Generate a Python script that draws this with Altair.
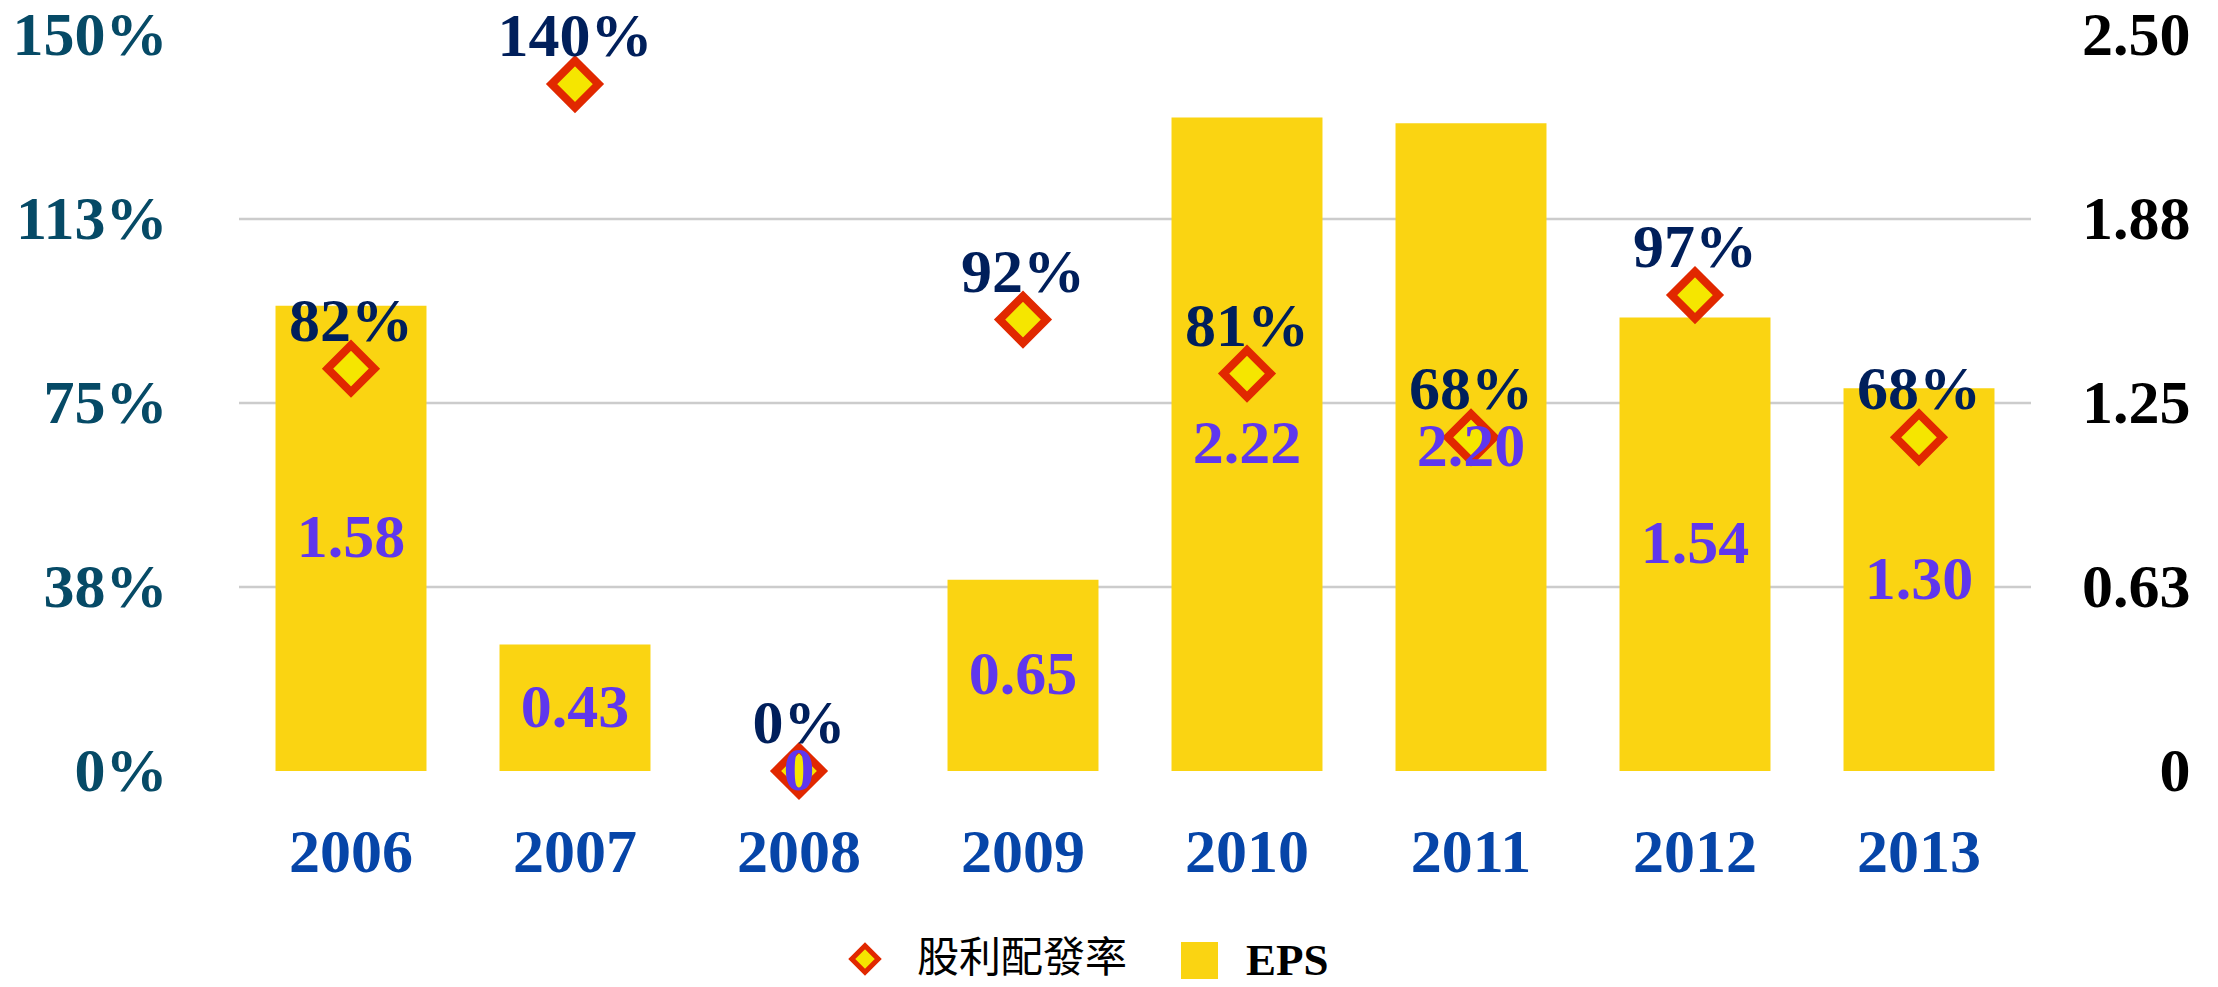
import altair as alt
import pandas as pd

# ---- data ----
years = ["2006", "2007", "2008", "2009", "2010", "2011", "2012", "2013"]
eps = [1.58, 0.43, 0, 0.65, 2.22, 2.20, 1.54, 1.30]
payout = [82, 140, 0, 92, 81, 68, 97, 68]
eps_labels = ["1.58", "0.43", "0", "0.65", "2.22", "2.20", "1.54", "1.30"]
payout_labels = ["82%", "140%", "0%", "92%", "81%", "68%", "97%", "68%"]

pct_ticks = [0, 37.5, 75, 112.5, 150]
pct_tick_labels = ["0%", "38%", "75%", "113%", "150%"]
eps_ticks = [0, 0.625, 1.25, 1.875, 2.5]
eps_tick_labels = ["0", "0.63", "1.25", "1.88", "2.50"]
grid_values = [0.625, 1.25, 1.875]

series_payout = "股利配發率"
series_eps = "EPS"

# ---- tables ----
df = pd.DataFrame({
    "year": years,
    "eps": eps,
    "payout": payout,
    "eps_label": eps_labels,
    "payout_label": payout_labels,
    "s_payout": [series_payout] * len(years),
    "s_eps": [series_eps] * len(years),
})
grid_df = pd.DataFrame({"g": grid_values})


def label_expr(ticks, labels):
    expr = "''"
    for t, l in reversed(list(zip(ticks, labels))):
        expr = f"datum.value == {t} ? '{l}' : ({expr})"
    return expr


SERIF = "Liberation Serif"
W, H = 1792, 736
FS_AXIS = 62
FS_VAL = 62

x_enc = alt.X(
    "year:N",
    sort=years,
    scale=alt.Scale(domain=years, paddingInner=0.326, paddingOuter=0.163),
    axis=alt.Axis(title=None, labelAngle=0, labelFont=SERIF, labelFontWeight="bold",
                  labelFontSize=FS_AXIS, labelColor="#0645a8", domain=False, ticks=False,
                  tickSize=0, labelPadding=51, grid=False),
)

eps_scale = alt.Scale(domain=[0, 2.5], nice=False, zero=True)
eps_axis = alt.Axis(title=None, orient="right", values=eps_ticks,
                    labelExpr=label_expr(eps_ticks, eps_tick_labels),
                    grid=False, domain=False, ticks=False, tickSize=0,
                    labelFont=SERIF, labelFontWeight="bold", labelFontSize=FS_AXIS,
                    labelColor="#000000", labelAlign="right", labelPadding=159)

pct_scale = alt.Scale(domain=[0, 150], nice=False, zero=True)
pct_axis = alt.Axis(title=None, orient="left", values=pct_ticks,
                    labelExpr=label_expr(pct_ticks, pct_tick_labels),
                    grid=False, domain=False, ticks=False, tickSize=0,
                    labelFont=SERIF, labelFontWeight="bold", labelFontSize=FS_AXIS,
                    labelColor="#064a66", labelAlign="right", labelPadding=72)

# ---- EPS group (right axis): gridlines + bars ----
grid = alt.Chart(grid_df).mark_rule(color="#cccccc", strokeWidth=2.5).encode(
    y=alt.Y("g:Q", scale=eps_scale, axis=eps_axis)
)

bars = alt.Chart(df).mark_bar(opacity=1).encode(
    x=x_enc,
    y=alt.Y("eps:Q", scale=eps_scale, axis=eps_axis),
    color=alt.Color(
        "s_eps:N",
        scale=alt.Scale(domain=[series_eps], range=["#fad412"]),
        legend=alt.Legend(title=None, orient="none", legendX=938, legendY=903,
                          symbolType="square", symbolSize=1370, symbolStrokeWidth=0,
                          labelFont=SERIF, labelFontWeight="bold", labelFontSize=45,
                          labelColor="#000000", labelOffset=24, labelLimit=400,
                          padding=0),
    ),
)

eps_group = alt.layer(grid, bars)

# ---- payout group (left axis) ----
diamonds = alt.Chart(df).mark_point(shape="diamond", filled=True, size=2200,
                                    stroke="#e12800", strokeWidth=8, opacity=1).encode(
    x=x_enc,
    y=alt.Y("payout:Q", scale=pct_scale, axis=pct_axis),
    fill=alt.Fill(
        "s_payout:N",
        scale=alt.Scale(domain=[series_payout], range=["#f5e600"]),
        legend=alt.Legend(title=None, orient="none", legendX=605, legendY=903,
                          symbolType="diamond", symbolSize=700,
                          symbolStrokeColor="#e12800", symbolStrokeWidth=5,
                          labelFont="Noto Sans CJK TC", labelFontWeight="normal",
                          labelFontSize=42, labelColor="#000000", labelOffset=31,
                          labelLimit=400, padding=0),
    ),
)

pct_text = alt.Chart(df).mark_text(font=SERIF, fontWeight="bold", fontSize=FS_VAL,
                                   color="#001f5b", dy=-47,
                                   baseline="middle", align="center").encode(
    x=x_enc, y=alt.Y("payout:Q", scale=pct_scale, axis=pct_axis), text="payout_label:N"
)

pct_group = alt.layer(diamonds, pct_text)

# ---- EPS value labels, drawn on top (same EPS domain, no extra axis) ----
eps_text = alt.Chart(df).transform_calculate(mid="datum.eps / 2").mark_text(
    font=SERIF, fontWeight="bold", fontSize=FS_VAL,
    color="#5f37ed", baseline="middle", align="center"
).encode(
    x=x_enc, y=alt.Y("mid:Q", scale=eps_scale, axis=None), text="eps_label:N"
)

chart = alt.layer(eps_group, pct_group, eps_text).resolve_scale(
    y="independent"
).properties(
    width=W,
    height=H,
    autosize=alt.AutoSizeParams(type="none"),
    padding={"left": 231, "top": 27, "right": 170, "bottom": 208},
    background="#ffffff",
).configure_view(stroke=None)

chart.save("out.html", embed_options={"renderer": "svg", "actions": False})
